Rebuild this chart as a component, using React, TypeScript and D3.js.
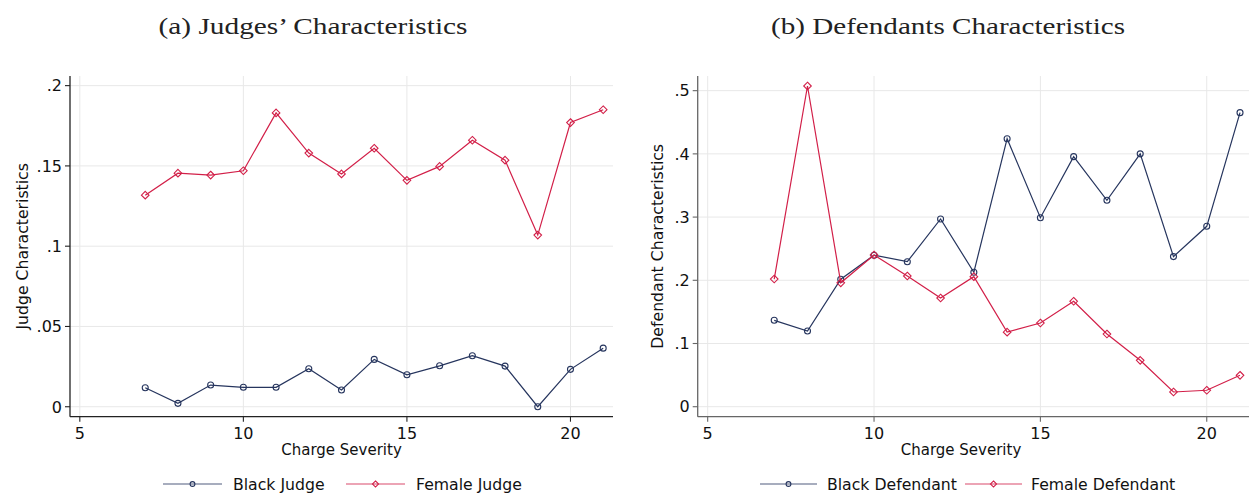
import React from "react";
import * as d3 from "d3";

// ---- Data ----
const severity = [7, 8, 9, 10, 11, 12, 13, 14, 15, 16, 17, 18, 19, 20, 21];

const blackJudge = [0.0118, 0.0021, 0.0135, 0.0121, 0.0121, 0.0237, 0.0104, 0.0295, 0.0199, 0.0255, 0.0318, 0.0253, 0.0, 0.0233, 0.0365];
const femaleJudge = [0.1318, 0.1455, 0.1443, 0.147, 0.183, 0.158, 0.145, 0.161, 0.141, 0.1497, 0.166, 0.1536, 0.1069, 0.177, 0.185];

const blackDefendant = [0.1367, 0.1198, 0.2016, 0.2396, 0.2294, 0.297, 0.2127, 0.424, 0.299, 0.3956, 0.3266, 0.4, 0.2375, 0.2854, 0.4652];
const femaleDefendant = [0.202, 0.5074, 0.196, 0.24, 0.2068, 0.172, 0.2057, 0.118, 0.1324, 0.1668, 0.115, 0.0734, 0.0233, 0.026, 0.0497];

const xTicks = [5, 10, 15, 20];
const judgeYTicks = [0, 0.05, 0.1, 0.15, 0.2];
const defendantYTicks = [0, 0.1, 0.2, 0.3, 0.4, 0.5];

const NAVY = "#26355e";
const RED = "#d21f48";
const GRID = "#e8e8e8";
const SANS = "'DejaVu Sans', sans-serif";
const SERIF = "'Liberation Serif', 'DejaVu Serif', serif";

const fmt = (v: number) => (v === 0 ? "0" : String(+v.toFixed(3)).replace(/^0\./, "."));

type Series = { name: string; values: number[]; color: string; marker: "circle" | "diamond" };

function Marker({ x, y, kind, color, size = 1 }: { x: number; y: number; kind: string; color: string; size?: number }) {
  if (kind === "circle") {
    return <circle cx={x} cy={y} r={3 * size} fill="none" stroke={color} strokeWidth={1.1} />;
  }
  const s = 3.8 * size;
  return (
    <polygon
      points={`${x},${y - s} ${x + s},${y} ${x},${y + s} ${x - s},${y}`}
      fill="none"
      stroke={color}
      strokeWidth={1.1}
    />
  );
}

type PanelProps = {
  title: string;
  titleX: number;
  titleLen: number;
  x0: number;
  x1: number;
  yDomain: [number, number];
  yTicks: number[];
  yTitle: string;
  yTitleX: number;
  axisColor: string;
  series: Series[];
  xTitleX: number;
  legend: { lineX0: number; lineX1: number; textX: number }[];
};

function Panel(p: PanelProps) {
  const top = 76;
  const bottom = 416.7;
  const x = d3.scaleLinear().domain([4.7, 21.3]).range([p.x0, p.x1]);
  const y = d3.scaleLinear().domain(p.yDomain).range([bottom, top]);
  const line = d3
    .line<number>()
    .x((_, i) => x(severity[i]))
    .y((d) => y(d));
  const yMid = (top + bottom) / 2;

  return (
    <g>
      <text x={p.titleX} y={34} fontFamily={SERIF} fontSize={22.5} textAnchor="middle" fill="#222"
        textLength={p.titleLen} lengthAdjust="spacingAndGlyphs">
        {p.title}
      </text>
      {/* grid */}
      {xTicks.map((t) => (
        <line key={"gx" + t} x1={x(t)} x2={x(t)} y1={top} y2={bottom} stroke={GRID} strokeWidth={1} />
      ))}
      {p.yTicks.map((t) => (
        <line key={"gy" + t} x1={p.x0} x2={p.x1} y1={y(t)} y2={y(t)} stroke={GRID} strokeWidth={1} />
      ))}
      {/* axes */}
      <line x1={p.x0} x2={p.x0} y1={top} y2={bottom} stroke={p.axisColor} strokeWidth={1.3} />
      <line x1={p.x0} x2={p.x1} y1={bottom} y2={bottom} stroke={p.axisColor} strokeWidth={1.3} />
      {p.yTicks.map((t) => (
        <g key={"ty" + t}>
          <line x1={p.x0 - 5} x2={p.x0} y1={y(t)} y2={y(t)} stroke={p.axisColor} strokeWidth={1.1} />
          <text x={p.x0 - 8} y={y(t)} dy="0.36em" textAnchor="end" fontFamily={SANS} fontSize={16} fill="#111">
            {fmt(t)}
          </text>
        </g>
      ))}
      {xTicks.map((t) => (
        <g key={"tx" + t}>
          <line x1={x(t)} x2={x(t)} y1={bottom} y2={bottom + 5} stroke={p.axisColor} strokeWidth={1.1} />
          <text x={x(t)} y={438.5} textAnchor="middle" fontFamily={SANS} fontSize={16} fill="#111">
            {t}
          </text>
        </g>
      ))}
      <text x={p.xTitleX} y={455} textAnchor="middle" fontFamily={SANS} fontSize={15} fill="#111">
        Charge Severity
      </text>
      <text
        transform={`translate(${p.yTitleX},${yMid}) rotate(-90)`}
        textAnchor="middle"
        fontFamily={SANS}
        fontSize={15.7}
        fill="#111"
      >
        {p.yTitle}
      </text>
      {/* series */}
      {p.series.map((s) => (
        <g key={s.name}>
          <path d={line(s.values) || ""} fill="none" stroke={s.color} strokeWidth={1.2} />
          {s.values.map((v, i) => (
            <Marker key={i} x={x(severity[i])} y={y(v)} kind={s.marker} color={s.color} />
          ))}
        </g>
      ))}
      {/* legend */}
      {p.series.map((s, i) => {
        const l = p.legend[i];
        return (
          <g key={"lg" + s.name}>
            <line x1={l.lineX0} x2={l.lineX1} y1={484} y2={484} stroke={s.color} strokeWidth={1.2} opacity={0.8} />
            <Marker x={(l.lineX0 + l.lineX1) / 2} y={484} kind={s.marker} color={s.color} size={0.8} />
            <text x={l.textX} y={489.5} fontFamily={SANS} fontSize={15.7} fill="#111">
              {s.name}
            </text>
          </g>
        );
      })}
    </g>
  );
}

export default function App() {
  return (
    <svg
      width={1249}
      height={493}
      style={{ position: "absolute", left: 0, top: 0, background: "#fff" }}
    >
      <rect width={1249} height={493} fill="#fff" />
      <Panel
        title="(a) Judges’ Characteristics"
        titleX={313}
        titleLen={309}
        x0={70}
        x1={613}
        yDomain={[-0.0062, 0.206]}
        yTicks={judgeYTicks}
        yTitle="Judge Characteristics"
        yTitleX={28}
        axisColor="#222"
        xTitleX={341.5}
        series={[
          { name: "Black Judge", values: blackJudge, color: NAVY, marker: "circle" },
          { name: "Female Judge", values: femaleJudge, color: RED, marker: "diamond" },
        ]}
        legend={[
          { lineX0: 163, lineX1: 222, textX: 233 },
          { lineX0: 346, lineX1: 405, textX: 416 },
        ]}
      />
      <Panel
        title="(b) Defendants Characteristics"
        titleX={948}
        titleLen={354}
        x0={697.7}
        x1={1250}
        yDomain={[-0.0158, 0.5232]}
        yTicks={defendantYTicks}
        yTitle="Defendant Characteristics"
        yTitleX={663}
        axisColor="#666"
        xTitleX={961}
        series={[
          { name: "Black Defendant", values: blackDefendant, color: NAVY, marker: "circle" },
          { name: "Female Defendant", values: femaleDefendant, color: RED, marker: "diamond" },
        ]}
        legend={[
          { lineX0: 760, lineX1: 817, textX: 827 },
          { lineX0: 965, lineX1: 1022, textX: 1031 },
        ]}
      />
    </svg>
  );
}
